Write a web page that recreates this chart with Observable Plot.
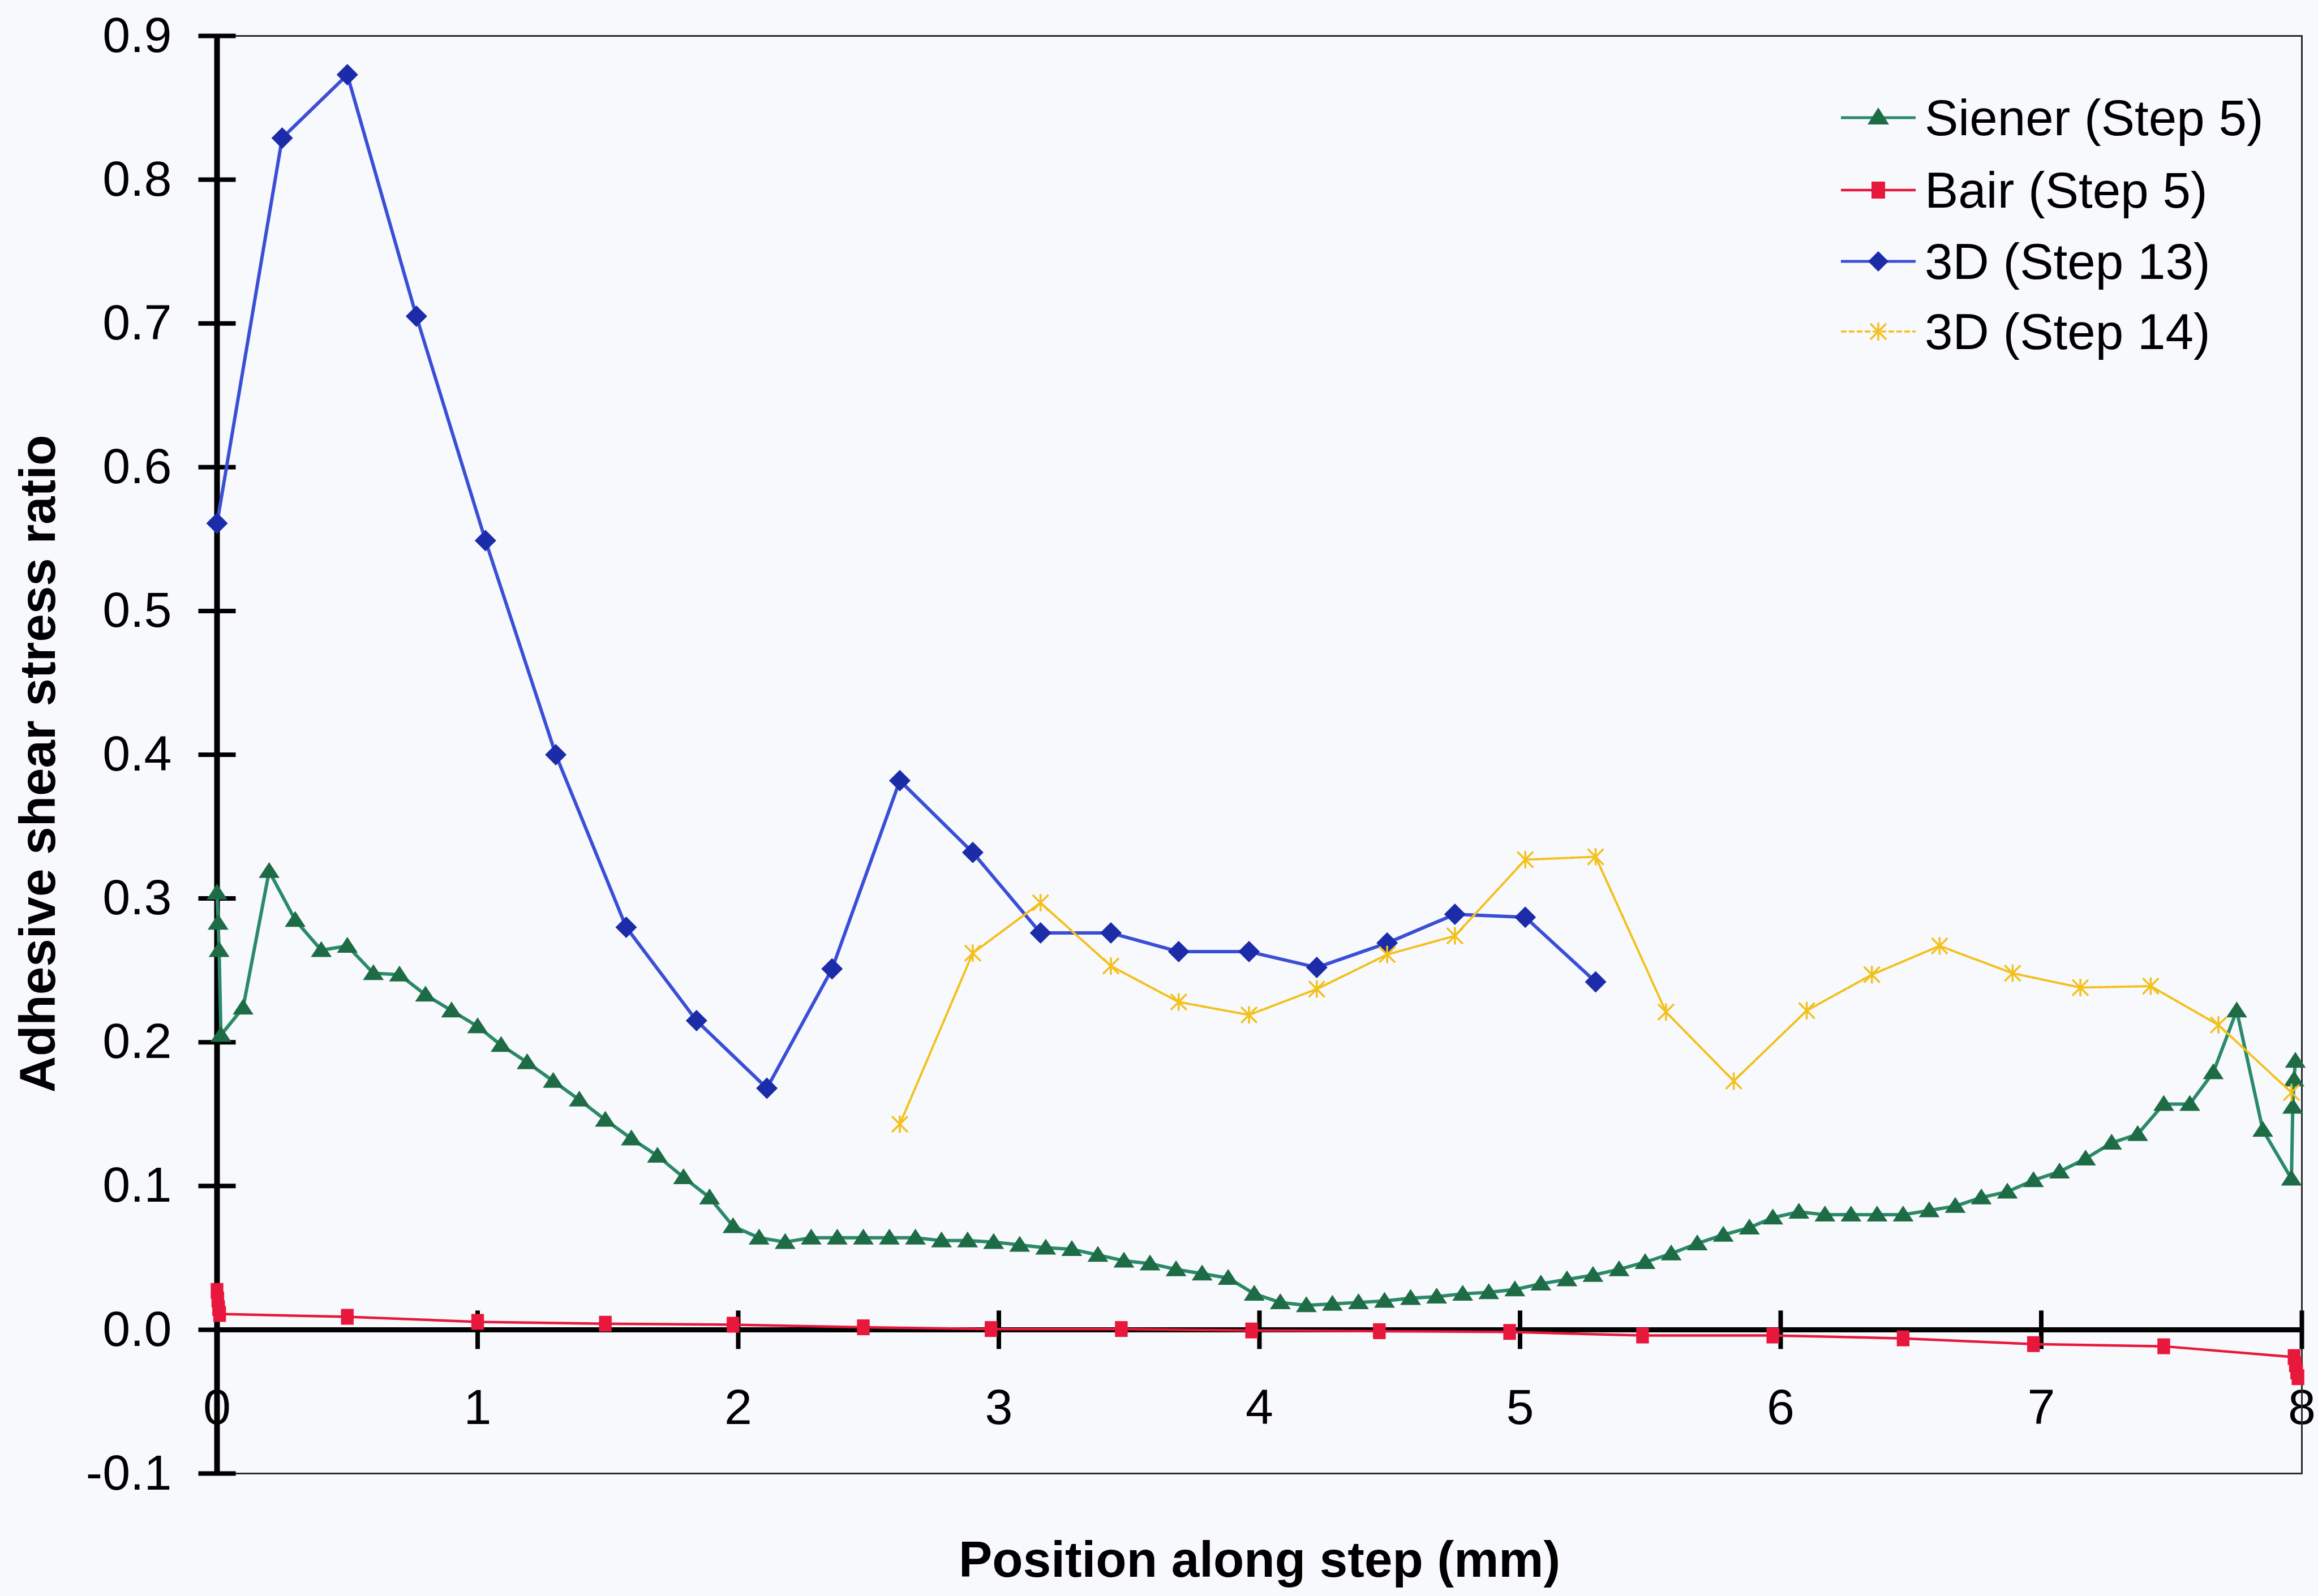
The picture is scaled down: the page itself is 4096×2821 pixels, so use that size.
<!DOCTYPE html>
<html>
<head>
<meta charset="utf-8">
<script src="https://cdn.jsdelivr.net/npm/d3@7"></script>
<script src="https://cdn.jsdelivr.net/npm/@observablehq/plot@0.6"></script>
<style>
html, body { margin: 0; padding: 0; background: #f8f9fd; }
#wrap { position: relative; width: 4096px; height: 2821px; font-family: "Liberation Sans", Arial, sans-serif; }
#legend { position: absolute; left: 3253px; top: 0; }
.row { position: absolute; left: 0; height: 100px; display: flex; align-items: center; white-space: nowrap; }
.row span { font-size: 89px; color: #000; margin-left: 16px; line-height: 100px; }
#ytitle { position: absolute; left: 66px; top: 1350px; transform: translate(-50%, -50%) rotate(-90deg); font-weight: bold; font-size: 89px; white-space: nowrap; color: #000; }
</style>
</head>
<body>
<div id="wrap"></div>
<script>
// ---------- data ----------
const xTickValues = [0, 1, 2, 3, 4, 5, 6, 7, 8];
const xTickLabels = ["0", "1", "2", "3", "4", "5", "6", "7", "8"];
const yTickValues = [-0.1, 0, 0.1, 0.2, 0.3, 0.4, 0.5, 0.6, 0.7, 0.8, 0.9];
const yTickLabels = ["-0.1", "0.0", "0.1", "0.2", "0.3", "0.4", "0.5", "0.6", "0.7", "0.8", "0.9"];

const xTitle = "Position along step (mm)";
const yTitle = "Adhesive shear stress ratio";
const seriesNames = ["Siener (Step 5)", "Bair (Step 5)", "3D (Step 13)", "3D (Step 14)"];

const sienerX = [0, 0.004, 0.008, 0.015,
  0.1, 0.2, 0.3, 0.4, 0.5, 0.6, 0.7, 0.8, 0.9, 1.0,
  1.09, 1.19, 1.29, 1.39, 1.49, 1.59, 1.69, 1.79, 1.89, 1.98,
  2.08, 2.18, 2.28, 2.38, 2.48, 2.58, 2.68, 2.78, 2.88, 2.98,
  3.08, 3.18, 3.28, 3.38, 3.48, 3.58, 3.68, 3.78, 3.88, 3.98,
  4.08, 4.18, 4.28, 4.38, 4.48, 4.58, 4.68, 4.78, 4.88, 4.98,
  5.08, 5.18, 5.28, 5.38, 5.48, 5.58, 5.68, 5.78, 5.88, 5.97,
  6.07, 6.17, 6.27, 6.37, 6.47, 6.57, 6.67, 6.77, 6.87, 6.97,
  7.07, 7.17, 7.27, 7.37, 7.47, 7.57, 7.66, 7.75, 7.85, 7.96,
  7.965, 7.97, 7.975];
const sienerY = [0.304, 0.283, 0.264, 0.205,
  0.224, 0.319, 0.285, 0.264, 0.267, 0.248, 0.247, 0.233, 0.222, 0.211,
  0.198, 0.186, 0.173, 0.160, 0.146, 0.133, 0.121, 0.106, 0.092, 0.072,
  0.064, 0.061, 0.064, 0.064, 0.064, 0.064, 0.064, 0.062, 0.062, 0.061,
  0.059, 0.057, 0.056, 0.052, 0.048, 0.046, 0.042, 0.039, 0.036, 0.025,
  0.019, 0.017, 0.018, 0.019, 0.020, 0.022, 0.023, 0.025, 0.026, 0.028,
  0.032, 0.035, 0.038, 0.042, 0.047, 0.053, 0.060, 0.066, 0.071, 0.078,
  0.082, 0.080, 0.080, 0.080, 0.080, 0.083, 0.086, 0.092, 0.096, 0.104,
  0.110, 0.119, 0.130, 0.136, 0.157, 0.157, 0.179, 0.222, 0.139, 0.105,
  0.155, 0.174, 0.187];

const bairX = [0, 0.003, 0.006, 0.01, 0.5, 1.0, 1.49, 1.98, 2.48, 2.97, 3.47, 3.97,
  4.46, 4.96, 5.47, 5.97, 6.47, 6.97, 7.47, 7.97, 7.975, 7.98, 7.985];
const bairY = [0.027, 0.021, 0.015, 0.011, 0.009, 0.0055, 0.0042, 0.0035, 0.0017, 0.0005, 0.0005, -0.0005,
  -0.001, -0.0015, -0.004, -0.004, -0.006, -0.010, -0.0115, -0.019, -0.024, -0.029, -0.033];

const step13X = [0, 0.25, 0.5, 0.765, 1.03, 1.30, 1.57, 1.84, 2.11, 2.36, 2.62, 2.90, 3.16, 3.43,
  3.69, 3.96, 4.22, 4.49, 4.75, 5.02, 5.29];
const step13Y = [0.561, 0.829, 0.873, 0.705, 0.549, 0.400, 0.280, 0.215, 0.168, 0.251, 0.382, 0.332,
  0.276, 0.276, 0.263, 0.263, 0.252, 0.269, 0.289, 0.287, 0.242];

const step14X = [2.62, 2.90, 3.16, 3.43, 3.69, 3.96, 4.22, 4.49, 4.75, 5.02, 5.29, 5.56, 5.82, 6.10,
  6.35, 6.61, 6.89, 7.15, 7.42, 7.68, 7.96];
const step14Y = [0.143, 0.262, 0.297, 0.253, 0.228, 0.219, 0.237, 0.261, 0.274, 0.327, 0.329, 0.221,
  0.173, 0.222, 0.247, 0.267, 0.248, 0.238, 0.239, 0.212, 0.165];

// ---------- styling ----------
const C = {
  greenLine: "#2b8a68", greenMark: "#1e6c46",
  red: "#e8183c",
  blueLine: "#3a4fd6", blueMark: "#1c2ca8",
  yellow: "#f3c01c"
};

const toRows = (xs, ys) => xs.map((x, i) => ({x, y: ys[i]}));
const siener = toRows(sienerX, sienerY);
const bair = toRows(bairX, bairY);
const s13 = toRows(step13X, step13Y);
const s14 = toRows(step14X, step14Y);
const yTicks = yTickValues.map((v, i) => ({v, label: yTickLabels[i]}));
const xTicks = xTickValues.map((v, i) => ({v, label: xTickLabels[i]}));

// custom symbols (r = sqrt(size/PI))
const rad = (size) => Math.sqrt(size / Math.PI);
const triSym = {draw(ctx, size) { const r = rad(size); ctx.moveTo(0, -r); ctx.lineTo(r * 1.15, r * 0.75); ctx.lineTo(-r * 1.15, r * 0.75); ctx.closePath(); }};
const sqSym = {draw(ctx, size) { const r = rad(size); ctx.rect(-r * 0.8, -r, r * 1.6, r * 2); }};
const diaSym = {draw(ctx, size) { const r = rad(size); ctx.moveTo(0, -r); ctx.lineTo(r, 0); ctx.lineTo(0, r); ctx.lineTo(-r, 0); ctx.closePath(); }};
const starSym = {draw(ctx, size) { const r = rad(size); ctx.moveTo(-r, -r); ctx.lineTo(r, r); ctx.moveTo(-r, r); ctx.lineTo(r, -r); ctx.moveTo(0, -r * 1.1); ctx.lineTo(0, r * 1.1); }};
const hTick = {draw(ctx, size) { const r = rad(size); ctx.moveTo(-r, 0); ctx.lineTo(r, 0); }};
const vTick = {draw(ctx, size) { const r = rad(size); ctx.moveTo(0, -r); ctx.lineTo(0, r); }};

const plot = Plot.plot({
  width: 4096,
  height: 2821,
  marginLeft: 383,
  marginRight: 29,
  marginTop: 63,
  marginBottom: 217,
  x: {domain: [0, 8], axis: null},
  y: {domain: [-0.1, 0.9], axis: null},
  style: {background: "transparent", fontFamily: "Liberation Sans, Arial, sans-serif", overflow: "visible"},
  marks: [
    // tick labels
    Plot.text(yTicks, {x: () => 0, y: "v", text: "label", textAnchor: "end", dx: -80, fontSize: 88, fill: "#000"}),
    Plot.text(xTicks, {x: "v", y: () => 0, text: "label", dy: 138, fontSize: 88, lineAnchor: "middle", fill: "#000"}),
    // frame + axes
    Plot.frame({stroke: "#2a2a2a", strokeWidth: 3}),
    Plot.ruleX([0], {stroke: "#000", strokeWidth: 10}),
    Plot.ruleY([0], {stroke: "#000", strokeWidth: 9}),
    Plot.dot(yTicks, {x: () => 0, y: "v", symbol: hTick, r: 33, stroke: "#000", strokeWidth: 8, fill: "none"}),
    Plot.dot(xTicks, {x: "v", y: () => 0, symbol: vTick, r: 34, stroke: "#000", strokeWidth: 8, fill: "none"}),
    // Siener
    Plot.line(siener, {x: "x", y: "y", stroke: C.greenLine, strokeWidth: 6, strokeLinejoin: "round"}),
    Plot.dot(siener, {x: "x", y: "y", symbol: triSym, r: 16, fill: C.greenMark, stroke: "none"}),
    // Bair
    Plot.line(bair, {x: "x", y: "y", stroke: C.red, strokeWidth: 4.5, strokeLinejoin: "round"}),
    Plot.dot(bair, {x: "x", y: "y", symbol: sqSym, r: 14, fill: C.red, stroke: "none"}),
    // 3D step 13
    Plot.line(s13, {x: "x", y: "y", stroke: C.blueLine, strokeWidth: 6, strokeLinejoin: "round"}),
    Plot.dot(s13, {x: "x", y: "y", symbol: diaSym, r: 19, fill: C.blueMark, stroke: "none"}),
    // 3D step 14
    Plot.line(s14, {x: "x", y: "y", stroke: C.yellow, strokeWidth: 4, strokeDasharray: "10,3", strokeLinejoin: "round"}),
    Plot.dot(s14, {x: "x", y: "y", symbol: starSym, r: 14, fill: "none", stroke: C.yellow, strokeWidth: 3.5}),
    // x-axis title
    Plot.text([xTitle], {frameAnchor: "bottom", dy: 154, fontSize: 89, fontWeight: "bold", lineAnchor: "middle", fill: "#000"})
  ]
});

const wrap = document.getElementById("wrap");
wrap.appendChild(plot);

// y-axis title
const yt = document.createElement("div");
yt.id = "ytitle";
yt.textContent = yTitle;
wrap.appendChild(yt);

// ---------- legend ----------
const legendSymbols = [
  `<line x1="0" y1="50" x2="132" y2="50" stroke="${C.greenLine}" stroke-width="5"/><polygon points="66,32 85,62 47,62" fill="${C.greenMark}"/>`,
  `<line x1="0" y1="50" x2="132" y2="50" stroke="${C.red}" stroke-width="4.5"/><rect x="54" y="35" width="24" height="30" fill="${C.red}"/>`,
  `<line x1="0" y1="50" x2="132" y2="50" stroke="${C.blueLine}" stroke-width="5"/><polygon points="66,32 84,50 66,68 48,50" fill="${C.blueMark}"/>`,
  `<line x1="0" y1="50" x2="132" y2="50" stroke="${C.yellow}" stroke-width="3.5" stroke-dasharray="10,4"/><path d="M52,36L80,64M52,64L80,36M66,34L66,66" stroke="${C.yellow}" stroke-width="3.5" fill="none"/>`
];
const legendRowY = [208, 336, 462, 586];
const legend = document.createElement("div");
legend.id = "legend";
seriesNames.forEach((name, i) => {
  const row = document.createElement("div");
  row.className = "row";
  row.style.top = (legendRowY[i] - 50) + "px";
  row.innerHTML = `<svg width="132" height="100" viewBox="0 0 132 100">${legendSymbols[i]}</svg><span>${name}</span>`;
  legend.appendChild(row);
});
wrap.appendChild(legend);
</script>
</body>
</html>
